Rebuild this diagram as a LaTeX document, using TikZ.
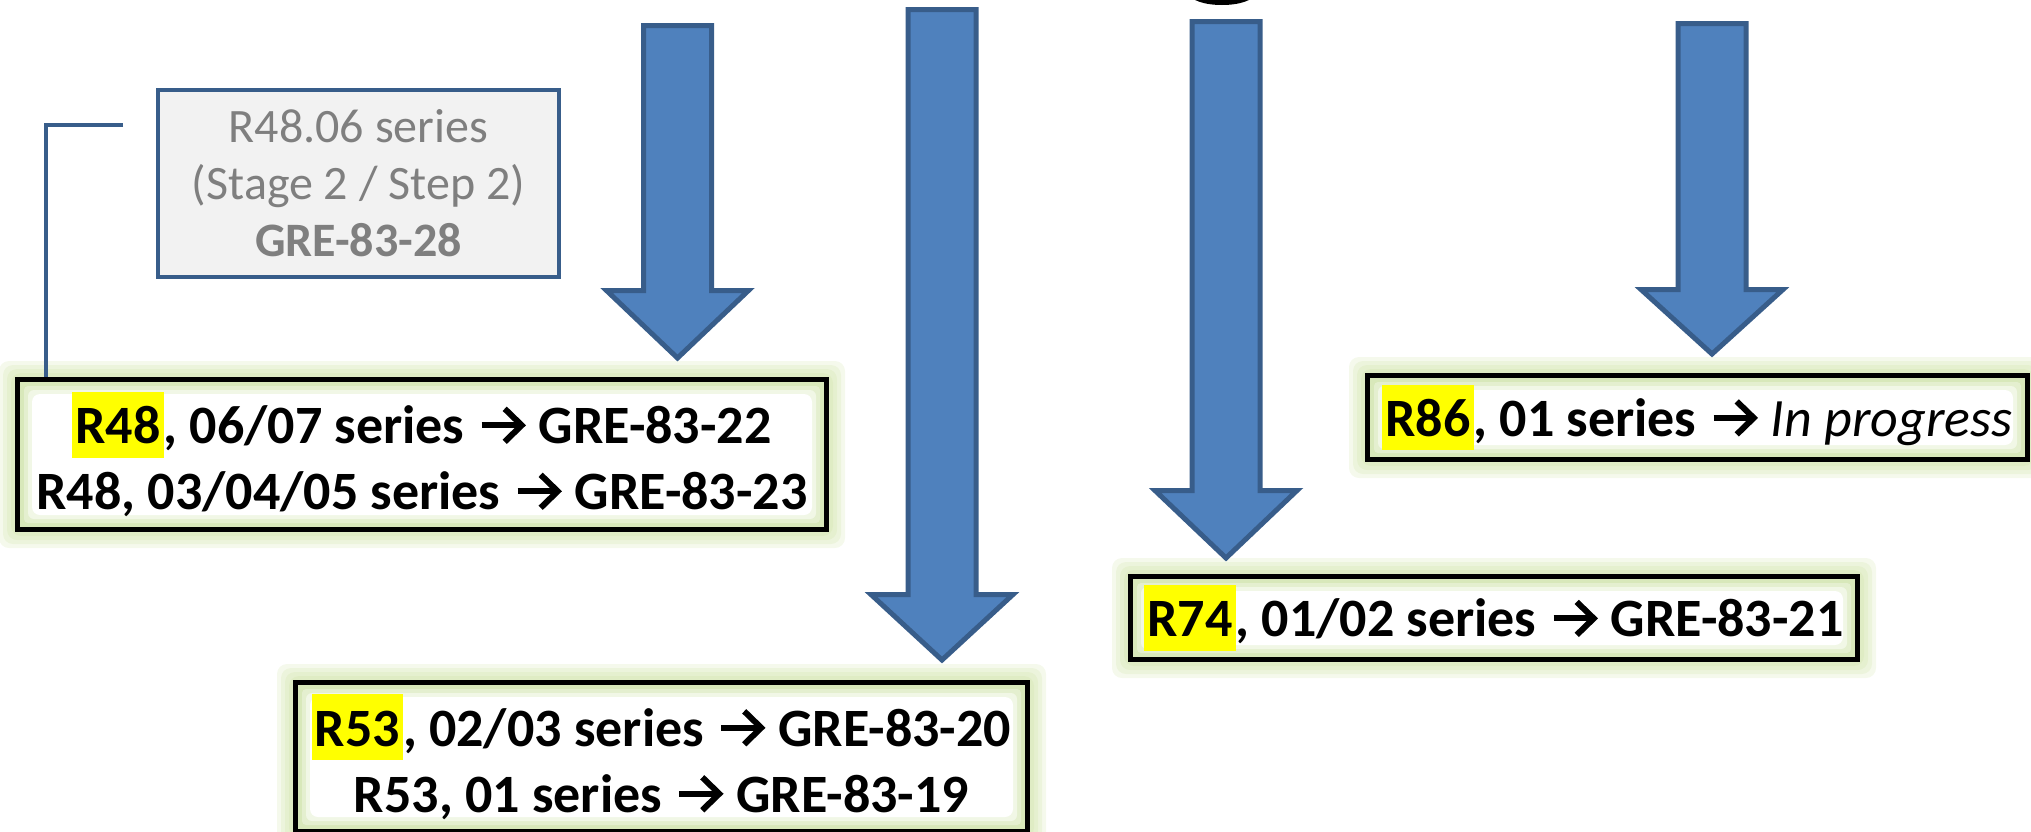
\documentclass[tikz,border=0pt]{standalone}
\usepackage{fontspec}
\setmainfont{Carlito}
\usetikzlibrary{calc}
\definecolor{arrfill}{HTML}{4F81BD}
\definecolor{arrline}{HTML}{385D8A}
\definecolor{glowc}{HTML}{C3DB8E}
\definecolor{glowA}{HTML}{D8E8BA}
\definecolor{glowB}{HTML}{E4EFCF}
\definecolor{glowC}{HTML}{F1F7E6}
\definecolor{grayfill}{HTML}{F2F2F2}
\definecolor{graytext}{HTML}{7F7F7F}
\definecolor{hlyellow}{HTML}{FFFF00}
\pgfdeclarelayer{background}
\pgfsetlayers{background,main}
\newcommand\hl[1]{{\setlength{\fboxsep}{0pt}\colorbox{hlyellow}{\kern1.5pt\rule[-0.26em]{0pt}{1.22em}#1\kern1.5pt}}}
\newcommand\rarr{\kern1pt\tikz[x=1pt,y=1pt,baseline=0pt]{\draw[line width=3pt,line join=miter,line cap=butt] (0,9.25)--(19.5,9.25); \draw[line width=3pt,line join=miter,line cap=butt] (11.5,17.5)--(20,9.25)--(11.5,1);}\kern1pt}
\newcommand\glow[1]{%
\begin{pgfonlayer}{background}
\foreach \d in {16,12,8,4} {\fill[glowc,opacity=0.17,rounded corners=5pt] ($(#1.north west)+(-\d,-\d)$) rectangle ($(#1.south east)+(\d,\d)$);}
\fill[glowA] (#1.north west) rectangle (#1.south east);
\fill[glowB,rounded corners=2pt] ($(#1.north west)+(9,9)$) rectangle ($(#1.south east)+(-9,-9)$);
\fill[glowC,rounded corners=3pt] ($(#1.north west)+(13,13)$) rectangle ($(#1.south east)+(-13,-13)$);
\fill[white,rounded corners=4pt] ($(#1.north west)+(17,17)$) rectangle ($(#1.south east)+(-17,-17)$);
\end{pgfonlayer}}
\newcommand\barrow[4]{\draw[blockarrow] ({#1-34},{#2+2.5}) -- ({#1+34},{#2+2.5}) -- ({#1+34},{#3+2.5}) -- ({#1+71},{#3+2.5}) -- (#1,{#4-4}) -- ({#1-71},{#3+2.5}) -- ({#1-34},{#3+2.5}) -- cycle;}
\tikzset{
  mainbox/.style={draw=black, line width=2.5pt, align=center, inner sep=0pt,
    font=\fontsize{27pt}{33pt}\selectfont\bfseries},
  graybox/.style={draw=arrline, fill=grayfill, line width=1.75pt, align=center, inner sep=0pt,
    text=graytext, font=\fontsize{24pt}{28.5pt}\selectfont},
  blockarrow/.style={fill=arrfill, draw=arrline, line width=2.5pt, line join=miter},
  conn/.style={draw=arrline, line width=2pt}
}
\begin{document}
\begin{tikzpicture}[x=0.5pt,y=-0.5pt]
\useasboundingbox (0,0) rectangle (2031,831);
% partial glyph at top edge
\fill[black] (1222,-6) ellipse [x radius=16pt, y radius=5.5pt];
% gray box
\node[graybox, minimum width=200.5pt, minimum height=93.5pt] (gray) at (358.5,183.5)
  {R48.06 series\\(Stage 2 / Step 2)\\\textbf{GRE-83-28}};
% main boxes
\node[mainbox, minimum width=404.5pt, minimum height=75pt] (r48) at (422,454.5)
  {\hl{R48}, 06/07 series \rarr{} GRE-83-22\\R48, 03/04/05 series \rarr{} GRE-83-23};
\node[mainbox, minimum width=366pt, minimum height=74.5pt] (r53) at (661.5,757)
  {\hl{R53}, 02/03 series \rarr{} GRE-83-20\\R53, 01 series \rarr{} GRE-83-19};
\node[mainbox, minimum width=363.5pt, minimum height=41.5pt] (r74) at (1494,618)
  {\hl{R74}, 01/02 series \rarr{} GRE-83-21};
\node[mainbox, minimum width=330pt, minimum height=42pt] (r86) at (1697.5,417.5)
  {\hl{R86}, 01 series \rarr{} {\mdseries\itshape In progress}};
\glow{r48}\glow{r53}\glow{r74}\glow{r86}
% connector
\coordinate (c1) at (123,125);
\coordinate (c2) at (45.5,125);
\draw[conn] (c1) -- (c2) -- (c2 |- r48.north);
% block arrows
\barrow{677.5}{23}{288}{362}
\barrow{942}{7}{592}{664}
\barrow{1226}{19}{488}{562}
\barrow{1712}{21}{287}{358}
\end{tikzpicture}
\end{document}
